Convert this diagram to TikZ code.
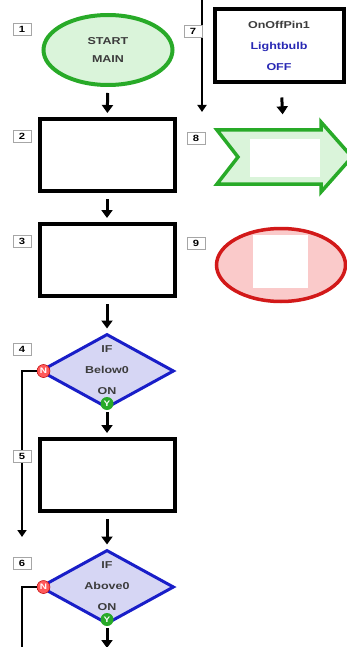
\documentclass[tikz,border=0pt]{standalone}
\usepackage{fontspec}
\newfontfamily\flowfont[FakeStretch=1.25]{Liberation Sans}
\usetikzlibrary{shapes.geometric,arrows.meta,positioning}

\definecolor{startline}{RGB}{40,170,40}
\definecolor{startfill}{RGB}{218,244,218}
\definecolor{ifline}{RGB}{25,30,200}
\definecolor{iffill}{RGB}{214,214,244}
\definecolor{stopline}{RGB}{210,25,25}
\definecolor{stopfill}{RGB}{250,202,202}
\definecolor{bulbblue}{RGB}{40,40,180}
\definecolor{textgray}{RGB}{60,60,60}

\tikzset{
	numbox/.style={draw=gray!70, fill=white, line width=0.6pt, minimum width=18pt, minimum height=12pt, inner sep=0pt, font=\flowfont\bfseries\fontsize{9}{9}\selectfont},
	plainbox/.style={draw=black, fill=white, line width=4pt, minimum width=135pt, minimum height=72pt, inner sep=0pt},
	ifbox/.style={diamond, aspect=1.8, draw=ifline, fill=iffill, line width=3pt, minimum width=134pt, minimum height=74pt, inner sep=0pt},
	iftext/.style={align=center, text=textgray, font=\flowfont\bfseries\fontsize{10}{21}\selectfont},
	nodot/.style={circle, fill=red!65, draw=red!75!black, line width=0.5pt, minimum size=13pt, inner sep=0pt, text=white, font=\flowfont\bfseries\fontsize{8}{8}\selectfont},
	yesdot/.style={circle, fill=startline, minimum size=13pt, inner sep=0pt, text=white, font=\flowfont\bfseries\fontsize{8}{8}\selectfont},
	flowarrow/.style={line width=3pt, -{Triangle[length=8pt,width=11pt]}, shorten <=6pt, shorten >=4pt},
	sideline/.style={line width=2.2pt, -{Triangle[length=7pt,width=9pt]}}
}

\begin{document}
\begin{tikzpicture}[x=1pt,y=-1pt]
	\useasboundingbox (0,0) rectangle (347,647);
	% left column
	\node[ellipse, draw=startline, fill=startfill, line width=4pt, minimum width=129pt, minimum height=70pt, align=center, text=textgray, font=\flowfont\bfseries\fontsize{10}{18}\selectfont] (start) at (108,50) {START\\MAIN};
	\foreach \n / \y in {2/155,3/260,5/475} { \node[plainbox] (b\n) at (107,\y) {};}
	\foreach \n / \y / \t in {4/371/Below0,6/587/Above0} {
		\node[ifbox] (if\n) at (107,\y) {};
		\node[iftext] (ift\n) at ([yshift=1pt]if\n.center) {IF\\\t\\ON};
		\node[nodot] (n\n) at ([xshift=5pt]if\n.west) {N};
		\node[yesdot] (y\n) at ([yshift=6pt]if\n.south) {Y};
	}
	% right column
	\node[plainbox, minimum width=129pt, minimum height=73pt, align=center, text=textgray, font=\flowfont\bfseries\fontsize{10}{21}\selectfont] (b7) at (279,46) {OnOffPin1\\\textcolor{bulbblue}{Lightbulb}\\\textcolor{bulbblue}{OFF}};
	\draw[startline, fill=startfill, line width=3.5pt, line join=miter] (217,130) -- (321,130) -- (321,122) -- (352,157) -- (321,192) -- (321,184) -- (217,184) -- (238,157) -- cycle;
	\node[fill=white, minimum width=70pt, minimum height=37pt, inner sep=0pt] (b8) at (285,158) {};
	\node[ellipse, draw=stopline, fill=stopfill, line width=3.5pt, minimum width=129pt, minimum height=73pt] (b9) at (281,265) {};
	\node[fill=white, minimum width=55pt, minimum height=53pt, inner sep=0pt] (b9in) at (280,261) {};
	% connectors
	\draw[flowarrow] (start) -- (b2);
	\draw[flowarrow] (b2) -- (b3);
	\draw[flowarrow] (b3) -- (if4);
	\draw[flowarrow, shorten <=2pt] (y4) -- (b5);
	\draw[flowarrow] (b5) -- (if6);
	\coordinate (next6) at (107,648);
	\draw[flowarrow, shorten <=2pt, shorten >=0pt] (y6) -- (next6);
	\coordinate (skip4) at (22,537);
	\coordinate (skip6) at (22,650);
	\draw[sideline] (n4) -| (skip4);
	\draw[sideline, -] (n6) -| (skip6);
	\coordinate (wraptop) at (202,0);
	\coordinate (wrapend) at (202,112);
	\draw[sideline] (wraptop) -- (wrapend);
	\draw[flowarrow, shorten <=13pt, shorten >=25pt] (b7) -- (b8);
	% step numbers
	\foreach \n / \x / \y in {1/22/29,2/22/136,3/22/241,4/22/349,5/22/456,6/22/563,7/193/31,8/196/138,9/196/243} { \node[numbox] (num\n) at (\x,\y) {\n};}
\end{tikzpicture}
\end{document}
